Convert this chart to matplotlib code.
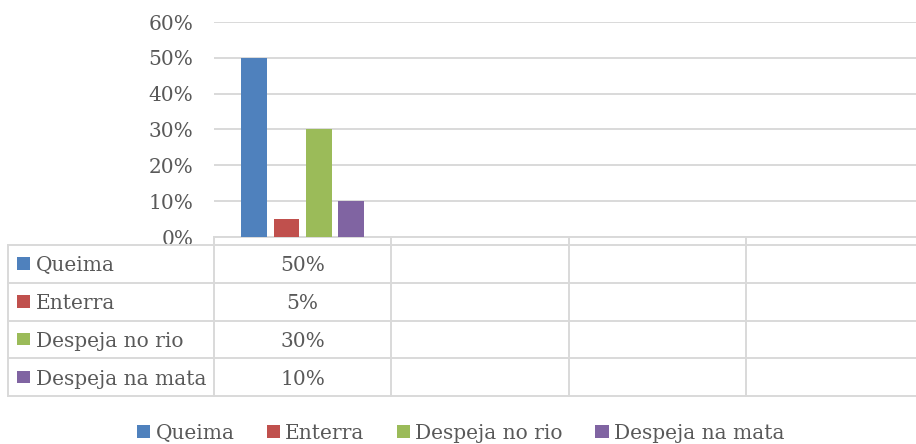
import matplotlib
matplotlib.use("Agg")
import matplotlib.pyplot as plt
from matplotlib.patches import Rectangle, Patch
from matplotlib.lines import Line2D
from matplotlib.transforms import blended_transform_factory
from matplotlib.ticker import PercentFormatter

plt.rcParams["font.family"] = ["DejaVu Serif"]

# Data
categories = ["", "", "", ""]
series_names = ["Queima", "Enterra", "Despeja no rio", "Despeja na mata"]
series_values = [
    [0.50, None, None, None],
    [0.05, None, None, None],
    [0.30, None, None, None],
    [0.10, None, None, None],
]
colors = ["#4F81BD", "#C0504D", "#9BBB59", "#8064A2"]
yticks = [0.0, 0.1, 0.2, 0.3, 0.4, 0.5, 0.6]

TEXT = "#595959"
GRID = "#D9D9D9"
FS = 14.5
W, H = 916, 444

fig = plt.figure(figsize=(W / 100, H / 100), dpi=100)
ax = fig.add_axes([214 / W, 207 / H, 709 / W, 215 / H])

n_cat = len(categories)
bar_w = 0.145
step = 0.182
offsets = [(i - (len(series_names) - 1) / 2) * step for i in range(len(series_names))]

for s, (name, vals, col) in enumerate(zip(series_names, series_values, colors)):
    xs = [c + offsets[s] for c, v in enumerate(vals) if v is not None]
    ys = [v for v in vals if v is not None]
    ax.bar(xs, ys, width=bar_w, color=col, zorder=3)

ax.set_xlim(-0.5, n_cat - 0.5)
ax.set_ylim(0, 0.6)
ax.set_yticks(yticks)
ax.yaxis.set_major_formatter(PercentFormatter(1.0, decimals=0))
ax.set_xticks([])
ax.tick_params(axis="y", length=0, pad=15, labelsize=FS, labelcolor=TEXT)
ax.grid(axis="y", color=GRID, linewidth=1.4, zorder=0)
for side in ["left", "right", "top"]:
    ax.spines[side].set_visible(False)
ax.spines["bottom"].set_color(GRID)
ax.spines["bottom"].set_linewidth(1.4)

# Data table below the plot area
tr = blended_transform_factory(ax.transData, fig.transFigure)
fy = lambda py: 1 - py / H
fx = lambda px: px / W

header_top, table_top, row_h = 237, 245, 37.75
n_rows = len(series_names)
table_bottom = table_top + n_rows * row_h
left_px = 8

line_kw = dict(color=GRID, linewidth=1.4, clip_on=False)

# horizontal rules
for r in range(n_rows + 1):
    y = fy(table_top + r * row_h)
    fig.add_artist(Line2D([fx(left_px), 1.01], [y, y], transform=fig.transFigure, **line_kw))
# outer left border of label column
fig.add_artist(Line2D([fx(left_px), fx(left_px)], [fy(table_top), fy(table_bottom)],
                      transform=fig.transFigure, **line_kw))
# category column boundaries
for c in range(n_cat + 1):
    x = c - 0.5
    ax.add_artist(Line2D([x, x], [fy(header_top), fy(table_bottom)], transform=tr, **line_kw))

for r, (name, vals, col) in enumerate(zip(series_names, series_values, colors)):
    yc = table_top + (r + 0.5) * row_h
    fig.add_artist(Rectangle((fx(17), fy(yc + 6)), 12.5 / W, 12.5 / H,
                             transform=fig.transFigure, facecolor=col, edgecolor="none"))
    fig.text(fx(36), fy(yc), name, fontsize=FS, color=TEXT, ha="left", va="center_baseline")
    for c, v in enumerate(vals):
        if v is not None:
            ax.text(c, fy(yc), f"{v * 100:.0f}%", transform=tr, fontsize=FS, color=TEXT,
                    ha="center", va="center_baseline", clip_on=False)

# Legend
handles = [Patch(facecolor=col, edgecolor="none", label=name)
           for name, col in zip(series_names, colors)]
fig.legend(handles=handles, loc="center", bbox_to_anchor=(0.503, 0.024), ncol=4,
           frameon=False, fontsize=FS, labelcolor=TEXT, handlelength=0.65,
           handleheight=0.65, handletextpad=0.25, columnspacing=1.62, borderpad=0)

fig.savefig("out.png", dpi=100)
